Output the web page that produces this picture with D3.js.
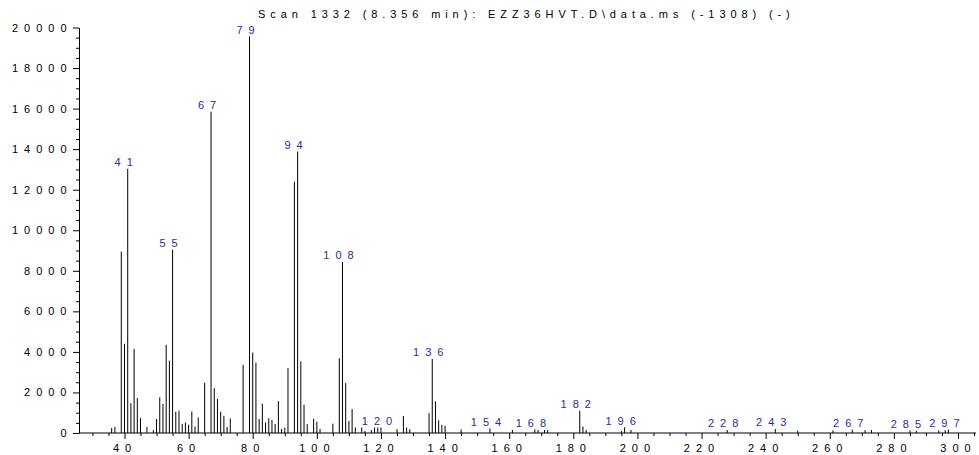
<!DOCTYPE html>
<html>
<head>
<meta charset="utf-8">
<script src="https://cdn.jsdelivr.net/npm/d3@7"></script>
<style>
  html, body { margin: 0; padding: 0; background: #fff; }
  svg { display: block; }
  text { font-family: "Liberation Sans", Arial, sans-serif; }
</style>
</head>
<body>
<svg id="chart" width="979" height="455"></svg>
<script>
// Mass spectrum, scan 1332: m/z values and their abundances
const mz = [36, 37, 39, 40, 41, 42, 43, 44, 45, 47, 49, 50, 51, 52, 53, 54, 55, 56, 57, 58,
  59, 60, 61, 62, 63, 65, 67, 68, 69, 70, 71, 72, 73, 77, 79, 80, 81, 82, 83, 84,
  85, 86, 87, 88, 89, 90, 91, 93, 94, 95, 96, 97, 99, 100, 101, 105, 107, 108, 109, 110,
  111, 112, 114, 115, 117, 118, 119, 120, 125, 127, 128, 129, 135, 136, 137, 138, 139, 140, 145, 154,
  161, 168, 169, 171, 172, 182, 183, 184, 195, 196, 198, 228, 243, 250, 261, 267, 271, 273, 285, 287,
  294, 296, 297];
const abundance = [250, 300, 8950, 4400, 13030, 1470, 4150, 1720, 730, 300, 140, 690, 1760, 1440, 4350, 3570, 9040, 1050, 1100, 450,
  520, 410, 1060, 320, 770, 2480, 15850, 2210, 1680, 1050, 850, 300, 720, 3360, 19560, 3970, 3470, 690, 1450, 520,
  730, 640, 440, 1570, 200, 260, 3200, 12400, 13880, 3530, 1400, 440, 700, 560, 200, 460, 3690, 8440, 2460, 590,
  1180, 270, 270, 100, 150, 270, 270, 270, 190, 840, 270, 190, 980, 3650, 1560, 620, 400, 360, 180, 230,
  150, 180, 150, 150, 150, 1100, 320, 150, 100, 280, 150, 150, 200, 120, 130, 170, 140, 150, 130, 110,
  130, 140, 170];
// Peaks annotated with their m/z
const labelledPeaks = [41, 55, 67, 79, 94, 108, 120, 136, 154, 168, 182, 196, 228, 243, 267, 285, 297];
// Axis ticks
const xMajorTicks = d3.range(40, 301, 20);
const xMinorTicks = d3.range(30, 306, 5).filter(v => v % 20 !== 0);
const yMajorTicks = d3.range(0, 20001, 2000);
const yMinorTicks = d3.range(500, 20000, 500).filter(v => v % 2000 !== 0);
const title = "Scan 1332 (8.356 min): EZZ36HVT.D\\data.ms (-1308) (-)";

const svg = d3.select("#chart");
const x = d3.scaleLinear().domain([40, 300]).range([124.5, 958]);
const y = d3.scaleLinear().domain([0, 20000]).range([433, 27.5]);
const axisLeftX = 79, axisRightX = 976;

const LS = 6;          // letter spacing for axis numbers and peak labels
const FS = 11;

// title
svg.append("text")
  .attr("x", 258).attr("y", 18)
  .attr("font-size", FS)
  .attr("letter-spacing", 4.9)
  .attr("fill", "#000")
  .text(title);

// bars
svg.append("g").selectAll("line")
  .data(mz.map((m, i) => ({ m, v: abundance[i] })))
  .join("line")
  .attr("x1", d => x(d.m)).attr("x2", d => x(d.m))
  .attr("y1", y(0)).attr("y2", d => y(d.v))
  .attr("stroke", "#000").attr("stroke-width", 1);

// peak labels
const lookup = new Map(mz.map((m, i) => [m, abundance[i]]));
svg.append("g").selectAll("text")
  .data(labelledPeaks)
  .join("text")
  .attr("x", d => x(d) - 1)
  .attr("y", d => y(lookup.get(d)) - 2.5)
  .attr("text-anchor", "middle")
  .attr("font-size", FS)
  .attr("letter-spacing", LS)
  .attr("fill", "#2b2b9a")
  .text(d => d);

// y axis
const yAxisG = svg.append("g").attr("transform", `translate(${axisLeftX},0)`);
yAxisG.call(d3.axisLeft(y).tickValues(yMajorTicks).tickSize(6).tickSizeOuter(0).tickFormat(d3.format("d")));
yAxisG.append("g").call(d3.axisLeft(y).tickValues(yMinorTicks).tickSize(3).tickFormat(""))
  .select(".domain").remove();
yAxisG.selectAll("text")
  .attr("font-family", "Liberation Sans, Arial, sans-serif")
  .attr("font-size", FS).attr("letter-spacing", LS)
  .attr("fill", "#000").attr("dx", LS - 3.5);

// x axis
const xAxisG = svg.append("g").attr("transform", `translate(0,${y(0)})`);
xAxisG.call(d3.axisBottom(x).tickValues(xMajorTicks).tickSize(6).tickSizeOuter(0).tickFormat(d3.format("d")));
xAxisG.select(".domain").attr("d", `M${axisLeftX},0H${axisRightX}`);
xAxisG.append("g").call(d3.axisBottom(x).tickValues(xMinorTicks).tickSize(3).tickFormat(""))
  .select(".domain").remove();
xAxisG.selectAll("text")
  .attr("font-family", "Liberation Sans, Arial, sans-serif")
  .attr("font-size", FS).attr("letter-spacing", LS)
  .attr("fill", "#000").attr("dy", "0.9em");
svg.selectAll(".domain, .tick line").attr("stroke", "#000");
</script>
</body>
</html>
